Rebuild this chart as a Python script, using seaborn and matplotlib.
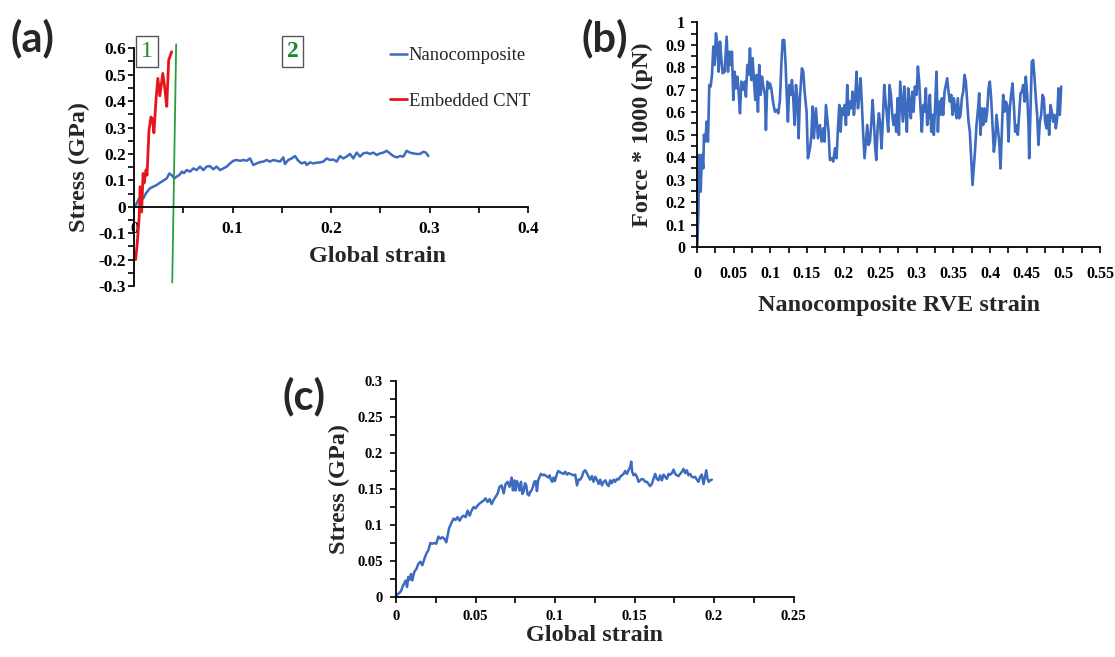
import matplotlib
matplotlib.use("Agg")
import matplotlib.pyplot as plt
import seaborn as sns
import pandas as pd
from matplotlib.ticker import MultipleLocator, FuncFormatter

# ---------------- Panel (a) data ----------------
a_nano_strain = [0.0007, 0.0024, 0.0051, 0.0092, 0.0119, 0.016, 0.0193, 0.0227, 0.0261, 0.0295,
                 0.0329, 0.0356, 0.038, 0.0407, 0.043, 0.0458, 0.0485, 0.0505, 0.0532, 0.0566,
                 0.06, 0.0634, 0.0668, 0.0702, 0.0735, 0.0769, 0.0803, 0.0837, 0.0871, 0.0905,
                 0.0939, 0.0973, 0.1006, 0.104, 0.1074, 0.1108, 0.1142, 0.1176, 0.121, 0.1243,
                 0.1277, 0.1311, 0.1345, 0.1379, 0.1413, 0.1447, 0.1481, 0.1514, 0.1531, 0.1565,
                 0.1599, 0.1633, 0.1667, 0.1701, 0.1735, 0.1752, 0.1786, 0.182, 0.1853, 0.1887,
                 0.1921, 0.1955, 0.1989, 0.2023, 0.2057, 0.209, 0.2124, 0.2158, 0.2192, 0.2226,
                 0.226, 0.2294, 0.2327, 0.2361, 0.2395, 0.2429, 0.2463, 0.2497, 0.2531, 0.2564,
                 0.2598, 0.2632, 0.2666, 0.27, 0.2734, 0.2768, 0.2801, 0.2835, 0.2869, 0.2903,
                 0.2937, 0.2964, 0.2988]
a_nano_stress = [0.0, 0.013, 0.032, 0.032, 0.051, 0.07, 0.076, 0.082, 0.091, 0.099,
                 0.107, 0.126, 0.12, 0.107, 0.114, 0.12, 0.133, 0.127, 0.139, 0.133,
                 0.145, 0.139, 0.152, 0.139, 0.152, 0.154, 0.142, 0.152, 0.139, 0.145,
                 0.152, 0.164, 0.174, 0.177, 0.174, 0.177, 0.174, 0.183, 0.158, 0.164,
                 0.169, 0.171, 0.177, 0.171, 0.177, 0.174, 0.171, 0.187, 0.162, 0.177,
                 0.183, 0.192, 0.174, 0.164, 0.169, 0.158, 0.168, 0.164, 0.167, 0.168,
                 0.171, 0.183, 0.177, 0.179, 0.171, 0.192, 0.183, 0.19, 0.2, 0.183,
                 0.205, 0.19, 0.202, 0.205, 0.2, 0.205, 0.196, 0.202, 0.205, 0.212,
                 0.202, 0.192, 0.187, 0.192, 0.19, 0.212, 0.205, 0.202, 0.2, 0.2,
                 0.208, 0.205, 0.192]
a_cnt_strain = [0.0014, 0.003, 0.005, 0.006, 0.0075, 0.009, 0.010, 0.012, 0.013, 0.015,
                0.017, 0.0185, 0.02, 0.022, 0.024, 0.026, 0.029, 0.031, 0.033, 0.035, 0.038]
a_cnt_stress = [-0.2, -0.14, -0.04, 0.076, -0.02, 0.126, 0.09, 0.14, 0.12, 0.29,
                0.34, 0.33, 0.28, 0.40, 0.486, 0.42, 0.505, 0.45, 0.38, 0.555, 0.587]
a_divider_x = [0.0426, 0.0386]
a_divider_y = [0.615, -0.287]
a_region_labels = ["1", "2"]
a_region_x = [0.0129, 0.161]
a_region_y = [0.588, 0.588]

# ---------------- Panel (b) data ----------------
b_strain = [0.0005, 0.0018, 0.0032, 0.005, 0.0068, 0.0086, 0.0095, 0.0114, 0.0132, 0.015,
            0.0168, 0.0186, 0.0205, 0.0223, 0.0241, 0.0259, 0.0277, 0.0296, 0.0314, 0.0332,
            0.035, 0.0377, 0.0405, 0.0423, 0.0441, 0.0459, 0.0477, 0.0496, 0.0514, 0.0532,
            0.055, 0.0568, 0.0587, 0.0605, 0.0623, 0.065, 0.0668, 0.0687, 0.0705, 0.0723,
            0.0741, 0.0759, 0.0778, 0.0796, 0.0814, 0.0832, 0.085, 0.0869, 0.0887, 0.0905,
            0.0928, 0.0941, 0.096, 0.0978, 0.0996, 0.1014, 0.1041, 0.1064, 0.1087, 0.111,
            0.1132, 0.1151, 0.1169, 0.1191, 0.121, 0.1223, 0.1241, 0.126, 0.1278, 0.1296,
            0.1314, 0.1332, 0.1351, 0.1369, 0.1387, 0.1405, 0.1432, 0.1451, 0.1469, 0.1496,
            0.1514, 0.1542, 0.156, 0.1578, 0.1596, 0.1623, 0.1651, 0.1678, 0.1701, 0.1724,
            0.1742, 0.176, 0.1778, 0.1796, 0.1814,
            0.1837, 0.186, 0.1883, 0.1905, 0.1924, 0.1942, 0.196, 0.1978, 0.1996, 0.2015,
            0.2033, 0.2051, 0.2069, 0.2087, 0.2106, 0.2124, 0.2142, 0.216, 0.2178, 0.2197,
            0.2215, 0.2233, 0.2251, 0.2269, 0.2287, 0.2306, 0.2324, 0.2342, 0.236, 0.2378,
            0.2397, 0.2415, 0.2433, 0.2447, 0.2465, 0.2483, 0.2501, 0.2519, 0.2538, 0.2556,
            0.2574, 0.2592, 0.261, 0.2628, 0.2647, 0.2665, 0.2683, 0.2701, 0.2719, 0.2738,
            0.2756, 0.2774, 0.2792, 0.281, 0.2829, 0.2847, 0.2865, 0.2883, 0.2901, 0.2919,
            0.2938, 0.2956, 0.2974, 0.2997, 0.3015, 0.3033, 0.3051, 0.3069, 0.3088, 0.3106,
            0.3124, 0.3142, 0.316, 0.3179, 0.3197, 0.3215, 0.3233, 0.3251, 0.3269, 0.3288,
            0.3306, 0.3324, 0.3342, 0.336, 0.3379, 0.3397, 0.3415, 0.3433, 0.3451, 0.347,
            0.3488, 0.3506, 0.3524, 0.3542, 0.356, 0.3579, 0.3597, 0.3615, 0.3633, 0.3652,
            0.367, 0.3688, 0.3706, 0.3724, 0.3742, 0.3761,
            0.3797, 0.3815, 0.3833, 0.3852, 0.387, 0.3888, 0.3906, 0.3924, 0.3943, 0.3961,
            0.3979, 0.3997, 0.4015, 0.4034, 0.4052, 0.407, 0.4088, 0.4106, 0.4125, 0.4143,
            0.4161, 0.4179, 0.4197, 0.4216, 0.4234, 0.4252, 0.427, 0.4288, 0.4306, 0.4325,
            0.4343, 0.4361, 0.4379, 0.4397, 0.4416, 0.4434, 0.4452, 0.447, 0.4488, 0.4507,
            0.4525, 0.4534, 0.4552, 0.457, 0.4589, 0.4607, 0.4625, 0.4643, 0.4661, 0.468,
            0.4698, 0.4716, 0.4734, 0.4752, 0.4771, 0.4789, 0.4807, 0.4825, 0.4843, 0.4861,
            0.488, 0.4898, 0.4916, 0.4934, 0.4952, 0.4971]
b_force = [0.009, 0.142, 0.41, 0.246, 0.41, 0.35, 0.5, 0.469, 0.558, 0.469,
           0.721, 0.714, 0.766, 0.892, 0.81, 0.951, 0.899, 0.78, 0.914, 0.84,
           0.773, 0.78, 0.936, 0.78, 0.869, 0.81, 0.869, 0.654, 0.78, 0.706,
           0.758, 0.691, 0.595, 0.736, 0.699, 0.736, 0.669, 0.81, 0.766, 0.884,
           0.743, 0.84, 0.736, 0.654, 0.766, 0.602, 0.81, 0.677, 0.758, 0.714,
           0.677, 0.521, 0.736, 0.706, 0.728, 0.706, 0.639, 0.602, 0.61, 0.595,
           0.654, 0.81, 0.921, 0.921, 0.81, 0.691, 0.558, 0.721, 0.677, 0.743,
           0.662, 0.543, 0.721, 0.662, 0.484, 0.662, 0.795, 0.78, 0.691, 0.602,
           0.395, 0.439, 0.491, 0.625, 0.484, 0.617, 0.484, 0.543, 0.469, 0.528,
           0.469, 0.632, 0.573, 0.513, 0.387,
           0.395, 0.38, 0.439, 0.395, 0.528, 0.632, 0.513, 0.617, 0.588, 0.632,
           0.543, 0.721, 0.588, 0.647, 0.617, 0.691, 0.588, 0.662, 0.78, 0.617,
           0.677, 0.751, 0.632, 0.499, 0.395, 0.469, 0.543, 0.454, 0.469, 0.543,
           0.654, 0.558, 0.439, 0.387, 0.528, 0.595, 0.543, 0.439, 0.573, 0.721,
           0.647, 0.588, 0.513, 0.721, 0.677, 0.588, 0.543, 0.588, 0.513, 0.662,
           0.499, 0.736, 0.647, 0.558, 0.714, 0.602, 0.513, 0.706, 0.647, 0.573,
           0.691, 0.602, 0.714, 0.677, 0.803, 0.736, 0.617, 0.513, 0.632, 0.602,
           0.706, 0.543, 0.588, 0.677, 0.513, 0.588, 0.499, 0.632, 0.78, 0.513,
           0.647, 0.588, 0.662, 0.588, 0.691, 0.721, 0.751, 0.691, 0.647, 0.677,
           0.588, 0.662, 0.617, 0.573, 0.662, 0.573, 0.588, 0.662, 0.691, 0.766,
           0.736, 0.647, 0.558, 0.513, 0.395, 0.276,
           0.439, 0.543, 0.602, 0.684, 0.499, 0.617, 0.543, 0.617, 0.558, 0.602,
           0.706, 0.736, 0.662, 0.543, 0.424, 0.469, 0.588, 0.528, 0.469, 0.35,
           0.513, 0.677, 0.602, 0.647, 0.632, 0.469, 0.617, 0.677, 0.728, 0.632,
           0.513, 0.543, 0.499, 0.588, 0.684, 0.691, 0.721, 0.647, 0.758, 0.677,
           0.543, 0.395, 0.617, 0.825, 0.832, 0.751, 0.662, 0.588, 0.454, 0.558,
           0.588, 0.677, 0.662, 0.558, 0.528, 0.588, 0.499, 0.632, 0.602, 0.558,
           0.588, 0.528, 0.573, 0.706, 0.588, 0.714]

# ---------------- Panel (c) data ----------------
c_strain = [0.0, 0.0017, 0.0031, 0.0044, 0.0052, 0.0061, 0.0069, 0.0077, 0.0086, 0.0094,
            0.0102, 0.0115, 0.0128, 0.014, 0.0153, 0.0165, 0.0178, 0.019, 0.0203, 0.0216,
            0.0228, 0.0241, 0.0253, 0.0266, 0.0278, 0.0291, 0.0304, 0.0316, 0.0325, 0.0333,
            0.0346, 0.0362, 0.0375, 0.0387, 0.04, 0.0413, 0.0425, 0.0438, 0.045, 0.0463,
            0.0475, 0.0488, 0.05, 0.0513, 0.0526, 0.0538, 0.0551, 0.0563, 0.0576, 0.0589,
            0.0601, 0.0614, 0.0626, 0.0639, 0.0651, 0.0664, 0.0677, 0.0689, 0.0702, 0.0714,
            0.0727, 0.0735, 0.0744, 0.0752, 0.076, 0.0769, 0.0777, 0.0786, 0.0794, 0.0802,
            0.0811, 0.0819, 0.0827, 0.0836, 0.0844, 0.0852, 0.0861, 0.0869, 0.0878, 0.0886,
            0.0894, 0.0903, 0.0911, 0.0924, 0.0932, 0.0945, 0.0957, 0.0966, 0.0974, 0.0982,
            0.0991, 0.0999, 0.1012, 0.102, 0.1033, 0.1054, 0.1064, 0.1075, 0.1085, 0.1096,
            0.1106, 0.1117, 0.1127, 0.1138, 0.1148, 0.1158, 0.1169, 0.1179, 0.119, 0.12,
            0.1211, 0.1221, 0.1232, 0.1242, 0.1253, 0.1263, 0.1274, 0.1284, 0.1295, 0.1305,
            0.1316, 0.1326, 0.1337, 0.1347, 0.1357, 0.1368, 0.1378, 0.1389, 0.1399, 0.141,
            0.142, 0.1431, 0.1441, 0.1452, 0.1462, 0.1473, 0.1479, 0.1485, 0.1494, 0.1504,
            0.1515, 0.1525, 0.1536, 0.1546, 0.1557, 0.1567, 0.1578, 0.1588, 0.1598, 0.1609,
            0.1619, 0.163, 0.164, 0.1651, 0.1661, 0.1672, 0.1682, 0.1693, 0.1703, 0.1714,
            0.1724, 0.1735, 0.1745, 0.1756, 0.1766, 0.1777, 0.1787, 0.1798, 0.1808, 0.1819,
            0.1829, 0.1839, 0.185, 0.186, 0.1871, 0.1881, 0.1892, 0.1902, 0.1913, 0.1923,
            0.1934, 0.1944, 0.1951, 0.1959, 0.1967, 0.1976, 0.1986]
c_stress = [0.002, 0.005, 0.008, 0.016, 0.019, 0.023, 0.014, 0.028, 0.024, 0.032,
            0.023, 0.035, 0.039, 0.046, 0.049, 0.044, 0.053, 0.06, 0.065, 0.075,
            0.074, 0.075, 0.074, 0.084, 0.081, 0.083, 0.081, 0.076, 0.086, 0.095,
            0.102, 0.109, 0.107, 0.111, 0.106, 0.111, 0.113, 0.111, 0.12, 0.113,
            0.12, 0.125, 0.123, 0.127, 0.13, 0.132, 0.134, 0.137, 0.132, 0.136,
            0.129, 0.135, 0.139, 0.144, 0.153, 0.155, 0.144, 0.157, 0.16, 0.153,
            0.166, 0.148, 0.162, 0.148, 0.161, 0.156, 0.148, 0.16, 0.143, 0.146,
            0.158, 0.155, 0.143, 0.141, 0.146, 0.148, 0.153, 0.16, 0.161, 0.147,
            0.162, 0.167, 0.171, 0.169, 0.17, 0.168, 0.166, 0.169, 0.163, 0.16,
            0.166, 0.161, 0.171, 0.175, 0.173, 0.171, 0.174, 0.17, 0.172, 0.171,
            0.17, 0.169, 0.17, 0.155, 0.163, 0.163, 0.167, 0.174, 0.176, 0.172,
            0.167, 0.163, 0.168, 0.16, 0.167, 0.163, 0.157, 0.163, 0.155, 0.16,
            0.162, 0.157, 0.154, 0.162, 0.158, 0.163, 0.16, 0.164, 0.163, 0.167,
            0.169, 0.171, 0.175, 0.171, 0.176, 0.181, 0.188, 0.174, 0.169, 0.171,
            0.167, 0.16, 0.162, 0.164, 0.163, 0.16, 0.16, 0.157, 0.154, 0.157,
            0.164, 0.171, 0.164, 0.162, 0.169, 0.162, 0.17, 0.167, 0.164, 0.171,
            0.17, 0.172, 0.177, 0.171, 0.169, 0.168, 0.171, 0.174, 0.178, 0.172,
            0.176, 0.169, 0.171, 0.167, 0.166, 0.167, 0.163, 0.16, 0.167, 0.17,
            0.157, 0.168, 0.176, 0.164, 0.16, 0.162, 0.163]

BLUE = "#3D6BC0"
RED = "#E8141B"
GREEN = "#2A9E3E"
GREEN_TXT = "#1B8A30"

sns.set_style("white")
plt.rcParams["font.family"] = ["Liberation Serif", "DejaVu Serif"]
plt.rcParams["font.weight"] = "bold"
plt.rcParams["axes.labelweight"] = "bold"

fig = plt.figure(figsize=(11.15, 6.57), dpi=100)
axA = fig.add_axes([0.1204, 0.5647, 0.3531, 0.3618])
axB = fig.add_axes([0.6251, 0.6240, 0.3614, 0.3421])
axC = fig.add_axes([0.3552, 0.0913, 0.3565, 0.3288])


def fmt(v, p):
    if abs(v) < 1e-9:
        return "0"
    return f"{v:g}"


def style(ax, xlim, ylim, xmaj, xmin, ymaj, ymin, size, xpad, ypad):
    ax.set_xlim(*xlim)
    ax.set_ylim(*ylim)
    ax.xaxis.set_major_locator(MultipleLocator(xmaj))
    ax.xaxis.set_minor_locator(MultipleLocator(xmin))
    ax.yaxis.set_major_locator(MultipleLocator(ymaj))
    ax.yaxis.set_minor_locator(MultipleLocator(ymin))
    ax.xaxis.set_major_formatter(FuncFormatter(fmt))
    ax.yaxis.set_major_formatter(FuncFormatter(fmt))
    for s in ["top", "right"]:
        ax.spines[s].set_visible(False)
    for s in ["left", "bottom"]:
        ax.spines[s].set_color("black")
        ax.spines[s].set_linewidth(1.3)
    ax.tick_params(which="both", direction="out", length=4.5, width=1.2,
                   color="black", labelsize=size, labelcolor="black",
                   bottom=True, left=True, top=False, right=False)
    ax.tick_params(axis="x", which="both", pad=xpad)
    ax.tick_params(axis="y", which="both", pad=ypad)
    ax.grid(False)
    ax.set_facecolor("none")


# ---- Panel (a)
sns.lineplot(x=a_nano_strain, y=a_nano_stress, ax=axA, color=BLUE, linewidth=1.8,
             sort=False, estimator=None, label="Nanocomposite")
sns.lineplot(x=a_cnt_strain, y=a_cnt_stress, ax=axA, color=RED, linewidth=2.0,
             sort=False, estimator=None, label="Embedded CNT")
axA.plot(a_divider_x, a_divider_y, color=GREEN, linewidth=1.3, clip_on=False)
style(axA, (0, 0.4), (-0.3, 0.6), 0.1, 0.05, 0.1, 0.05, 12.5, 6, 1.5)
axA.spines["bottom"].set_position(("data", 0))
axA.set_xlabel("Global strain", fontsize=17.5)
axA.set_ylabel("Stress (GPa)", fontsize=17.5)
axA.xaxis.set_label_coords(0.619, 0.126)
axA.xaxis.label.set_va("center")
axA.yaxis.set_label_coords(-0.14, 0.5)
axA.yaxis.label.set_va("center")
axA.legend(loc="upper left", bbox_to_anchor=(0.65, 1.005), frameon=False,
           handlelength=0.9, handletextpad=0.1, labelspacing=1.55,
           borderpad=0, borderaxespad=0,
           prop={"family": "Liberation Serif", "weight": "normal", "size": 13.4})
for lab, x, y, w in zip(a_region_labels, a_region_x, a_region_y, ["normal", "bold"]):
    axA.text(x, y, lab, color=GREEN_TXT, fontsize=17, fontweight=w,
             ha="center", va="center", clip_on=False,
             bbox=dict(boxstyle="square,pad=0.2", fc="white", ec="#555555", lw=1.0))

# ---- Panel (b)
sns.lineplot(x=b_strain, y=b_force, ax=axB, color=BLUE, linewidth=1.9,
             sort=False, estimator=None)
style(axB, (0, 0.55), (0, 1.0), 0.05, 0.025, 0.1, 0.05, 11.5, 9, 4)
axB.set_xlabel("Nanocomposite RVE strain", fontsize=17.5)
axB.set_ylabel("Force * 1000 (pN)", fontsize=17.5)
axB.xaxis.set_label_coords(0.501, -0.258)
axB.xaxis.label.set_va("center")
axB.yaxis.set_label_coords(-0.136, 0.5)
axB.yaxis.label.set_va("center")

# ---- Panel (c)
sns.lineplot(x=c_strain, y=c_stress, ax=axC, color=BLUE, linewidth=1.8,
             sort=False, estimator=None)
style(axC, (0, 0.25), (0, 0.3), 0.05, 0.025, 0.05, 0.025, 10.5, 5, 5)
axC.set_xlabel("Global strain", fontsize=17.5)
axC.set_ylabel("Stress (GPa)", fontsize=17.5)
axC.xaxis.set_label_coords(0.5, -0.178)
axC.xaxis.label.set_va("center")
axC.yaxis.set_label_coords(-0.143, 0.5)
axC.yaxis.label.set_va("center")

# ---- Panel letters
for txt, px, py in [("(a)", 32, 38), ("(b)", 605, 38), ("(c)", 304, 396)]:
    fig.text(px / 1115, 1 - py / 657, txt, family=["Lato", "DejaVu Sans"],
             fontweight="bold", fontsize=30, ha="center", va="center")

fig.savefig("out.png", dpi=100)
